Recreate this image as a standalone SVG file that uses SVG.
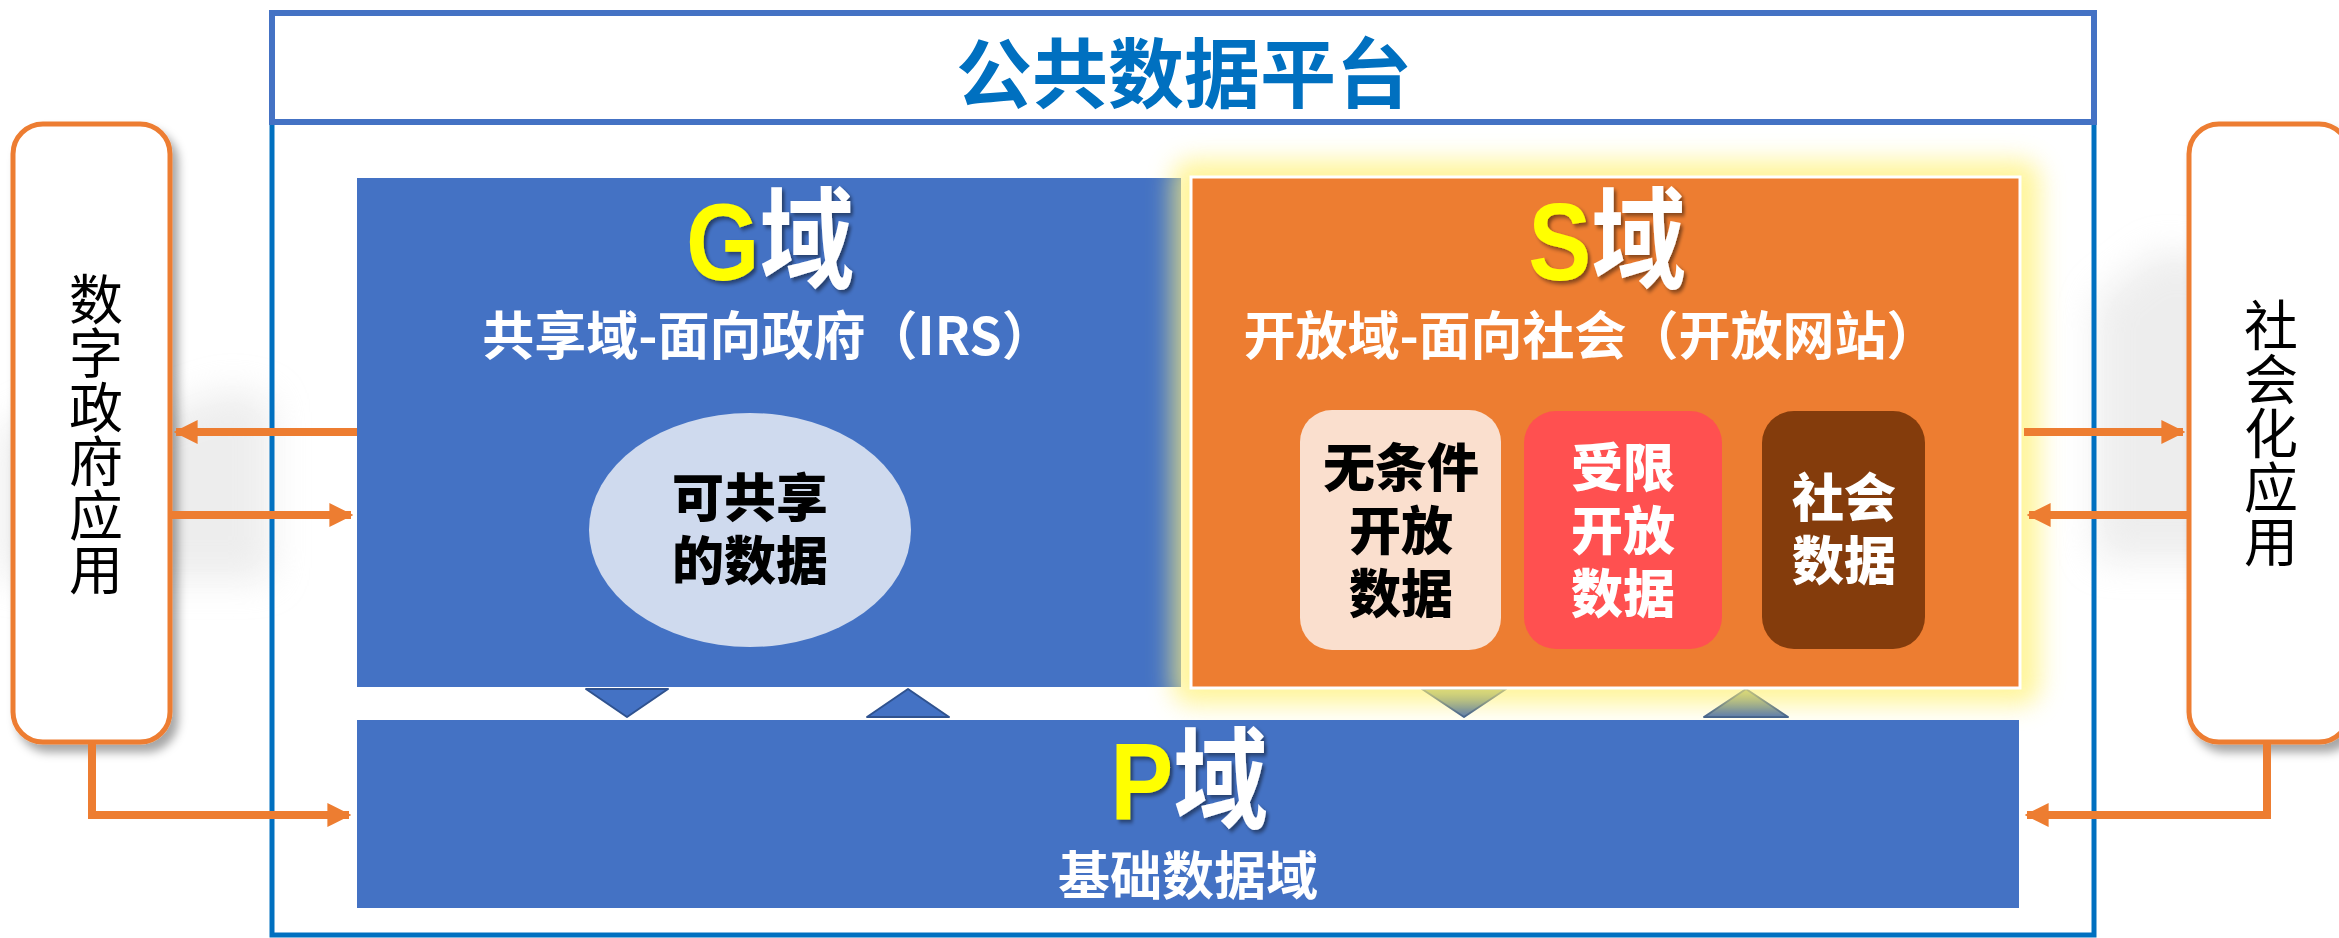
<svg xmlns="http://www.w3.org/2000/svg" width="2339" height="938" viewBox="0 0 2339 938">
<defs>
<style>
.cjk{font-family:"Noto Sans CJK SC","Liberation Sans",sans-serif;}
.lat{font-family:"Liberation Sans","Noto Sans CJK SC",sans-serif;}
.b{font-weight:700;}
.h{font-weight:900;}
.w{fill:#FFFFFF;}
.k{fill:#000000;}
.y{fill:#FFFF00;}
.vt{writing-mode:vertical-rl;text-orientation:upright;}
.side{fill:#FFFFFF;stroke:#ED7D31;stroke-width:5;}
.arr{fill:none;stroke:#ED7D31;stroke-width:8;}
.tri{fill:#4472C4;stroke:#2F528F;stroke-width:2;stroke-linejoin:round;}
</style>
<filter id="shadow" x="-20%" y="-10%" width="150%" height="130%">
<feDropShadow dx="6" dy="8" stdDeviation="5" flood-color="#000" flood-opacity="0.35"/>
</filter>
<filter id="tshadow" x="-20%" y="-20%" width="140%" height="140%">
<feDropShadow dx="3" dy="3" stdDeviation="2" flood-color="#000" flood-opacity="0.45"/>
</filter>
<filter id="glow" x="-10%" y="-10%" width="120%" height="120%">
<feGaussianBlur stdDeviation="12"/>
</filter>
<filter id="bg" x="-20%" y="-20%" width="140%" height="140%">
<feGaussianBlur stdDeviation="18"/>
</filter>
<marker id="ah" viewBox="0 0 10 10" refX="9" refY="5" markerWidth="3" markerHeight="3" orient="auto" markerUnits="strokeWidth">
<path d="M0,0 L10,5 L0,10 Z" fill="#ED7D31"/>
</marker>
<linearGradient id="tg" x1="0" y1="0" x2="0" y2="1">
<stop offset="0" stop-color="#8FA56E"/>
<stop offset="1" stop-color="#4A6EB4"/>
</linearGradient>
</defs>

<rect x="0" y="0" width="2339" height="938" fill="#FFFFFF"/>
<g id="background" opacity="0.5" filter="url(#bg)">
<path d="M0,430 L60,400 L140,420 L230,390 L272,400 L272,580 L0,580 Z" fill="#DCDCDC"/>
<path d="M2096,300 L2160,250 L2250,270 L2339,230 L2339,560 L2096,560 Z" fill="#DCDCDC"/>
</g>

<g id="platform">
<rect x="272" y="122" width="1822" height="813" fill="none" stroke="#0070C0" stroke-width="5"/>
<rect x="272" y="13" width="1822" height="109" fill="#FFFFFF" stroke="#4472C4" stroke-width="6"/>
<text class="cjk b" x="1184" y="102" text-anchor="middle" font-size="76" fill="#0070C0">公共数据平台</text>
</g>

<g id="g-domain">
<rect x="357" y="178" width="824" height="509" fill="#4472C4"/>
<g filter="url(#tshadow)" transform="translate(770,280) scale(0.86,1)">
<text x="0" y="0" text-anchor="middle" font-size="110" class="b"><tspan class="lat y">G</tspan><tspan class="cjk w">域</tspan></text>
</g>
<text class="cjk b w" x="768" y="355" text-anchor="middle" font-size="52">共享域-面向政府（IRS）</text>
</g>

<g id="g-shared">
<ellipse cx="750" cy="530" rx="161" ry="117" fill="#CFDAEE"/>
<text class="cjk h k" x="750" y="517" text-anchor="middle" font-size="52">可共享</text>
<text class="cjk h k" x="750" y="580" text-anchor="middle" font-size="52">的数据</text>
</g>

<g id="triangles">
<path class="tri" d="M586,689 L668,689 L627,717 Z"/>
<path class="tri" d="M867,717 L949,717 L908,689 Z"/>
<path class="tri" style="fill:url(#tg)" d="M1422,689 L1506,689 L1464,717 Z"/>
<path class="tri" style="fill:url(#tg)" d="M1704,717 L1788,717 L1746,689 Z"/>
</g>

<g id="s-domain">
<rect x="1172" y="160" width="868" height="545" rx="20" fill="#FFF27A" opacity="0.75" filter="url(#glow)"/>
<rect x="1191" y="177" width="829" height="511" fill="#ED7D31" stroke="#FFFFFF" stroke-width="3"/>
<g filter="url(#tshadow)" transform="translate(1607,280) scale(0.86,1)">
<text x="0" y="0" text-anchor="middle" font-size="110" class="b"><tspan class="lat y">S</tspan><tspan class="cjk w">域</tspan></text>
</g>
<text class="cjk b w" x="1591" y="355" text-anchor="middle" font-size="52">开放域-面向社会（开放网站）</text>
</g>

<g id="s-unconditional">
<rect x="1300" y="410" width="201" height="240" rx="32" fill="#FADFCE"/>
<text class="cjk h k" x="1401" y="487" text-anchor="middle" font-size="52">无条件</text>
<text class="cjk h k" x="1401" y="550" text-anchor="middle" font-size="52">开放</text>
<text class="cjk h k" x="1401" y="613" text-anchor="middle" font-size="52">数据</text>
</g>

<g id="s-restricted">
<rect x="1524" y="411" width="198" height="238" rx="32" fill="#FF5050"/>
<text class="cjk h w" x="1623" y="487" text-anchor="middle" font-size="52">受限</text>
<text class="cjk h w" x="1623" y="550" text-anchor="middle" font-size="52">开放</text>
<text class="cjk h w" x="1623" y="613" text-anchor="middle" font-size="52">数据</text>
</g>

<g id="s-social">
<rect x="1762" y="411" width="163" height="238" rx="32" fill="#843C0C"/>
<text class="cjk h w" x="1844" y="517" text-anchor="middle" font-size="52">社会</text>
<text class="cjk h w" x="1844" y="580" text-anchor="middle" font-size="52">数据</text>
</g>

<g id="p-domain">
<rect x="357" y="720" width="1662" height="188" fill="#4472C4"/>
<g filter="url(#tshadow)" transform="translate(1189,820) scale(0.86,1)">
<text x="0" y="0" text-anchor="middle" font-size="110" class="b"><tspan class="lat y">P</tspan><tspan class="cjk w">域</tspan></text>
</g>
<text class="cjk b w" x="1188" y="895" text-anchor="middle" font-size="52">基础数据域</text>
</g>

<g id="gov-app">
<rect class="side" x="13" y="124" width="157" height="618" rx="30" filter="url(#shadow)"/>
<text class="cjk k vt" x="96" y="272" font-size="54">数字政府应用</text>
</g>

<g id="social-app">
<rect class="side" x="2189" y="124" width="160" height="618" rx="30" filter="url(#shadow)"/>
<text class="cjk k vt" x="2271" y="298" font-size="54">社会化应用</text>
</g>

<g id="connectors">
<path class="arr" d="M357,432 L176,432" marker-end="url(#ah)"/>
<path class="arr" d="M172,515 L351,515" marker-end="url(#ah)"/>
<path class="arr" d="M92,744 L92,815 L349,815" marker-end="url(#ah)"/>
<path class="arr" d="M2024,432 L2183,432" marker-end="url(#ah)"/>
<path class="arr" d="M2189,515 L2029,515" marker-end="url(#ah)"/>
<path class="arr" d="M2267,744 L2267,815 L2027,815" marker-end="url(#ah)"/>
</g>
</svg>
